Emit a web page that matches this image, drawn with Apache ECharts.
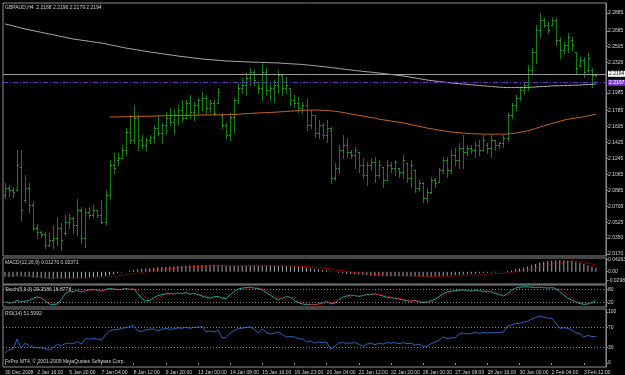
<!DOCTYPE html>
<html><head><meta charset="utf-8">
<script src="https://cdn.jsdelivr.net/npm/echarts@6/dist/echarts.min.js"></script>
<style>html,body{margin:0;padding:0;background:#000}#c{width:625px;height:375px}</style>
</head><body><div id="c"></div>
<script>
const timeLabels = ["30 Dec 2008","2 Jan 16:00","5 Jan 20:00","7 Jan 04:00","8 Jan 12:00","9 Jan 20:00","13 Jan 00:00","14 Jan 08:00","15 Jan 16:00","19 Jan 23:00","20 Jan 04:00","21 Jan 12:00","22 Jan 20:00","26 Jan 00:00","27 Jan 08:00","28 Jan 16:00","30 Jan 00:00","2 Feb 04:00","3 Feb 12:00"];

const openP = [2.0834,2.0913,2.0891,2.0891,2.1150,2.0778,2.0913,2.0722,2.0462,2.0417,
2.0395,2.0271,2.0327,2.0350,2.0462,2.0406,2.0530,2.0575,2.0496,2.0665,
2.0350,2.0643,2.0609,2.0665,2.0609,2.0530,2.0834,2.1172,2.1229,2.1251,
2.1342,2.1544,2.1454,2.1702,2.1454,2.1398,2.1454,2.1488,2.1589,2.1533,
2.1623,2.1702,2.1657,2.1736,2.1792,2.1702,2.1871,2.1770,2.1849,2.1905,
2.1928,2.1815,2.1871,2.1871,2.1736,2.1623,2.1511,2.1713,2.1905,2.2040,
2.2074,2.2153,2.2221,2.2108,2.2040,2.2221,2.2018,2.2040,2.2074,2.2187,
2.2040,2.2040,2.1905,2.1871,2.1815,2.1849,2.1623,2.1736,2.1533,2.1623,
2.1511,2.1589,2.1026,2.1139,2.1342,2.1398,2.1319,2.1285,2.1319,2.1172,
2.1060,2.1172,2.1206,2.1060,2.1150,2.1003,2.1172,2.1139,2.1139,2.1094,
2.1195,2.1026,2.1116,2.0913,2.0970,2.0801,2.0868,2.1003,2.0981,2.1116,
2.1229,2.1116,2.1285,2.1229,2.1364,2.1319,2.1364,2.1342,2.1398,2.1342,
2.1398,2.1364,2.1454,2.1398,2.1420,2.1477,2.1736,2.1849,2.1928,2.2018,
2.2074,2.2243,2.2446,2.2694,2.2807,2.2750,2.2750,2.2807,2.2581,2.2469,
2.2525,2.2581,2.2446,2.2300,2.2356,2.2243,2.2243,2.2188];

const highP = [2.0970,2.0947,2.0925,2.1342,2.1342,2.1060,2.0970,2.0755,2.0508,2.0429,
2.0417,2.0406,2.0496,2.0586,2.0519,2.0609,2.0620,2.0586,2.0789,2.0699,
2.0688,2.0699,2.0722,2.0665,2.0778,2.0891,2.1229,2.1308,2.1308,2.1398,
2.1589,2.1736,2.1849,2.1736,2.1511,2.1477,2.1511,2.1623,2.1736,2.1646,
2.1770,2.1815,2.1792,2.1849,2.1905,2.1905,2.1961,2.1882,2.1928,2.1995,
2.1961,2.1905,2.1905,2.2040,2.1759,2.1646,2.1759,2.1928,2.2097,2.2153,
2.2209,2.2266,2.2243,2.2108,2.2322,2.2266,2.2097,2.2130,2.2243,2.2187,
2.2164,2.2040,2.1961,2.1939,2.1882,2.1928,2.1792,2.1736,2.1680,2.1646,
2.1680,2.1601,2.1195,2.1398,2.1511,2.1477,2.1342,2.1375,2.1319,2.1251,
2.1206,2.1251,2.1263,2.1229,2.1150,2.1229,2.1206,2.1229,2.1139,2.1285,
2.1195,2.1229,2.1116,2.1003,2.0981,2.0913,2.1037,2.1026,2.1139,2.1263,
2.1263,2.1342,2.1364,2.1420,2.1511,2.1398,2.1398,2.1432,2.1454,2.1511,
2.1420,2.1511,2.1454,2.1432,2.1511,2.1759,2.1871,2.1961,2.2040,2.2097,
2.2300,2.2491,2.2750,2.2885,2.2829,2.2784,2.2840,2.2829,2.2615,2.2559,
2.2660,2.2615,2.2446,2.2390,2.2390,2.2435,2.2266,2.2196];

const lowP = [2.0801,2.0823,2.0812,2.0891,2.0553,2.0755,2.0643,2.0440,2.0350,2.0361,
2.0237,2.0260,2.0237,2.0271,2.0215,2.0384,2.0462,2.0406,2.0384,2.0293,
2.0248,2.0575,2.0586,2.0586,2.0519,2.0496,2.0801,2.1082,2.1172,2.1251,
2.1285,2.1420,2.1420,2.1342,2.1364,2.1342,2.1420,2.1432,2.1511,2.1420,
2.1533,2.1623,2.1533,2.1623,2.1657,2.1702,2.1702,2.1680,2.1736,2.1792,
2.1759,2.1770,2.1736,2.1871,2.1589,2.1477,2.1454,2.1544,2.1871,2.1984,
2.1961,2.2074,2.2074,2.1984,2.1905,2.1961,2.1905,2.1882,2.1995,2.1961,
2.1984,2.1849,2.1826,2.1770,2.1759,2.1567,2.1589,2.1488,2.1477,2.1477,
2.1432,2.0970,2.1003,2.1082,2.1251,2.1263,2.1251,2.1139,2.1094,2.1026,
2.0947,2.1116,2.0981,2.1037,2.0925,2.1003,2.1094,2.1060,2.1037,2.1026,
2.0981,2.0925,2.0868,2.0891,2.0755,2.0755,2.0857,2.0925,2.0981,2.1082,
2.1037,2.1082,2.1172,2.1139,2.1139,2.1285,2.1308,2.1263,2.1285,2.1342,
2.1308,2.1263,2.1342,2.1364,2.1375,2.1454,2.1702,2.1792,2.1905,2.1984,
2.2018,2.2209,2.2322,2.2615,2.2728,2.2660,2.2750,2.2525,2.2378,2.2435,
2.2446,2.2469,2.2209,2.2277,2.2164,2.2221,2.2052,2.2179];

const closeP = [2.0913,2.0891,2.0868,2.1172,2.0665,2.0913,2.0722,2.0462,2.0417,2.0395,
2.0271,2.0327,2.0350,2.0462,2.0327,2.0530,2.0575,2.0496,2.0665,2.0350,
2.0643,2.0609,2.0665,2.0609,2.0530,2.0834,2.1172,2.1139,2.1251,2.1342,
2.1544,2.1454,2.1702,2.1454,2.1398,2.1454,2.1488,2.1589,2.1533,2.1623,
2.1702,2.1657,2.1736,2.1792,2.1702,2.1871,2.1770,2.1849,2.1905,2.1928,
2.1815,2.1871,2.1759,2.1995,2.1623,2.1511,2.1713,2.1905,2.2040,2.2074,
2.2153,2.2221,2.2130,2.2040,2.2221,2.2018,2.2040,2.2074,2.2187,2.2040,
2.2074,2.1905,2.1871,2.1815,2.1849,2.1623,2.1736,2.1533,2.1623,2.1511,
2.1589,2.1026,2.1139,2.1342,2.1398,2.1319,2.1285,2.1342,2.1172,2.1060,
2.1172,2.1206,2.1060,2.1172,2.1003,2.1172,2.1139,2.1206,2.1094,2.1229,
2.1026,2.1172,2.0913,2.0970,2.0801,2.0868,2.1003,2.0970,2.1116,2.1229,
2.1116,2.1285,2.1229,2.1364,2.1319,2.1364,2.1342,2.1398,2.1342,2.1454,
2.1364,2.1454,2.1398,2.1420,2.1477,2.1736,2.1849,2.1928,2.2018,2.2074,
2.2243,2.2446,2.2694,2.2807,2.2750,2.2694,2.2807,2.2581,2.2469,2.2525,
2.2615,2.2525,2.2266,2.2356,2.2221,2.2378,2.2187,2.2194];

const maSlow = [2.2762,2.2751,2.2740,2.2728,2.2717,2.2705,2.2696,2.2686,2.2677,2.2668,
2.2658,2.2649,2.2639,2.2630,2.2621,2.2611,2.2602,2.2592,2.2586,2.2579,
2.2573,2.2566,2.2560,2.2553,2.2547,2.2538,2.2528,2.2519,2.2510,2.2500,
2.2491,2.2484,2.2476,2.2469,2.2461,2.2454,2.2446,2.2440,2.2433,2.2427,
2.2420,2.2414,2.2407,2.2401,2.2395,2.2390,2.2384,2.2378,2.2373,2.2367,
2.2363,2.2360,2.2356,2.2352,2.2349,2.2345,2.2343,2.2341,2.2339,2.2337,
2.2335,2.2333,2.2331,2.2330,2.2328,2.2327,2.2325,2.2324,2.2322,2.2319,
2.2316,2.2313,2.2311,2.2308,2.2305,2.2300,2.2296,2.2291,2.2286,2.2282,
2.2277,2.2271,2.2266,2.2260,2.2254,2.2249,2.2243,2.2238,2.2233,2.2228,
2.2223,2.2219,2.2214,2.2209,2.2204,2.2198,2.2193,2.2187,2.2182,2.2176,
2.2168,2.2161,2.2153,2.2145,2.2138,2.2130,2.2124,2.2119,2.2113,2.2108,
2.2102,2.2097,2.2093,2.2089,2.2084,2.2080,2.2076,2.2072,2.2068,2.2064,
2.2061,2.2057,2.2053,2.2050,2.2046,2.2045,2.2045,2.2045,2.2046,2.2046,
2.2046,2.2049,2.2052,2.2055,2.2057,2.2060,2.2063,2.2065,2.2066,2.2068,
2.2069,2.2071,2.2072,2.2074,2.2077,2.2080,2.2082,2.2085];

const maMid = [null,null,null,null,null,null,null,null,null,null,
null,null,null,null,null,null,null,null,null,null,
null,null,null,null,null,null,2.1713,2.1714,2.1715,2.1716,
2.1717,2.1718,2.1719,2.1720,2.1721,2.1722,2.1723,2.1724,2.1725,2.1726,
2.1727,2.1728,2.1729,2.1730,2.1731,2.1732,2.1733,2.1734,2.1735,2.1736,
2.1736,2.1737,2.1737,2.1738,2.1738,2.1739,2.1740,2.1742,2.1745,2.1748,
2.1751,2.1754,2.1757,2.1759,2.1761,2.1763,2.1765,2.1767,2.1770,2.1773,
2.1776,2.1779,2.1782,2.1785,2.1788,2.1790,2.1792,2.1792,2.1791,2.1789,
2.1786,2.1783,2.1779,2.1772,2.1765,2.1757,2.1748,2.1740,2.1732,2.1724,
2.1716,2.1708,2.1700,2.1689,2.1682,2.1675,2.1668,2.1661,2.1654,2.1646,
2.1638,2.1628,2.1618,2.1608,2.1599,2.1589,2.1581,2.1573,2.1565,2.1558,
2.1551,2.1544,2.1540,2.1536,2.1532,2.1528,2.1525,2.1523,2.1522,2.1521,
2.1520,2.1520,2.1520,2.1520,2.1521,2.1522,2.1526,2.1532,2.1540,2.1549,
2.1558,2.1570,2.1584,2.1598,2.1612,2.1626,2.1639,2.1652,2.1665,2.1678,
2.1688,2.1695,2.1702,2.1709,2.1716,2.1726,2.1735,2.1744];

const macdMain = [-0.018,-0.019,-0.019,-0.016,-0.017,-0.018,-0.019,-0.021,-0.022,-0.023,
-0.024,-0.025,-0.025,-0.024,-0.024,-0.024,-0.023,-0.023,-0.022,-0.022,
-0.021,-0.020,-0.019,-0.018,-0.017,-0.015,-0.012,-0.009,-0.006,-0.003,
0.000,0.003,0.006,0.008,0.010,0.011,0.012,0.014,0.015,0.016,
0.017,0.018,0.019,0.020,0.021,0.021,0.022,0.022,0.022,0.023,
0.023,0.023,0.023,0.023,0.022,0.021,0.020,0.020,0.021,0.021,
0.022,0.022,0.022,0.022,0.022,0.022,0.022,0.021,0.021,0.021,
0.020,0.019,0.018,0.017,0.016,0.014,0.012,0.010,0.008,0.006,
0.004,0.001,-0.002,-0.004,-0.006,-0.008,-0.009,-0.010,-0.011,-0.012,
-0.013,-0.014,-0.015,-0.015,-0.016,-0.016,-0.016,-0.016,-0.016,-0.016,
-0.016,-0.016,-0.017,-0.017,-0.018,-0.018,-0.018,-0.017,-0.016,-0.015,
-0.014,-0.013,-0.012,-0.011,-0.010,-0.009,-0.008,-0.007,-0.006,-0.005,
-0.004,-0.003,-0.002,-0.001,0.000,0.002,0.005,0.008,0.011,0.014,
0.018,0.022,0.027,0.032,0.035,0.037,0.039,0.040,0.040,0.040,
0.039,0.037,0.034,0.031,0.027,0.023,0.018,0.0127];

const macdSignal = [-0.012,-0.013,-0.014,-0.015,-0.015,-0.016,-0.016,-0.017,-0.018,-0.019,
-0.020,-0.021,-0.022,-0.022,-0.023,-0.023,-0.023,-0.023,-0.023,-0.023,
-0.023,-0.022,-0.022,-0.021,-0.020,-0.019,-0.018,-0.017,-0.015,-0.013,
-0.011,-0.009,-0.007,-0.005,-0.003,-0.001,0.001,0.003,0.005,0.007,
0.009,0.010,0.012,0.013,0.014,0.015,0.016,0.017,0.018,0.019,
0.020,0.020,0.021,0.021,0.021,0.021,0.021,0.021,0.021,0.021,
0.021,0.021,0.021,0.021,0.021,0.021,0.021,0.021,0.021,0.021,
0.021,0.020,0.020,0.019,0.018,0.018,0.017,0.015,0.014,0.013,
0.011,0.009,0.007,0.005,0.003,0.001,-0.001,-0.003,-0.004,-0.006,
-0.007,-0.008,-0.009,-0.010,-0.011,-0.012,-0.013,-0.013,-0.014,-0.014,
-0.015,-0.015,-0.015,-0.016,-0.016,-0.016,-0.017,-0.017,-0.017,-0.016,
-0.016,-0.016,-0.015,-0.015,-0.014,-0.013,-0.012,-0.012,-0.011,-0.010,
-0.009,-0.008,-0.007,-0.006,-0.005,-0.004,-0.003,-0.001,0.001,0.003,
0.006,0.009,0.012,0.016,0.019,0.023,0.026,0.029,0.032,0.034,
0.036,0.037,0.037,0.036,0.033,0.030,0.027,0.0237];

const stochMain = [22,18,20,30,24,26,30,40,46,42,
28,14,10,14,35,60,72,70,76,68,
74,78,80,76,72,80,84,82,78,80,
84,80,82,62,40,28,30,42,52,56,
60,62,58,64,60,66,58,62,56,50,
44,40,46,48,40,38,55,70,82,86,
88,90,86,84,78,66,54,42,34,40,
48,44,30,20,14,10,12,10,14,18,
26,14,18,34,44,50,54,52,48,52,
58,56,60,55,50,44,42,40,36,32,
28,26,30,24,20,22,28,36,48,60,
68,72,74,76,78,74,72,76,74,70,
72,68,62,56,50,60,76,86,90,92,
92,90,88,90,88,86,88,84,70,54,
40,32,22,16,12,14,20,29.26];

const stochSignal = [24,22,20,23,25,27,27,32,39,43,
39,28,17,13,20,36,56,67,73,71,
73,74,77,78,76,76,79,82,81,80,
81,81,82,75,61,43,33,33,41,50,
56,59,60,61,61,63,61,62,59,56,
50,45,43,45,45,42,44,54,69,79,
85,88,88,87,83,76,66,54,43,39,
41,44,41,31,21,15,12,11,12,14,
19,19,19,22,32,43,49,52,51,51,
53,55,58,57,55,50,45,42,39,36,
32,29,28,27,25,22,23,29,37,48,
59,67,71,74,76,76,75,74,74,73,
72,70,67,62,56,55,62,74,84,89,
91,91,90,89,89,88,87,86,81,69,
55,42,31,23,17,14,15,16.88];

const rsiVals = [20,26,27,47,29,39,34,31,30,30,
28,26,30,37,34,38,39,38,42,37,
48,47,48,47,45,55,63,65,66,67,
70,71,74,63,62,65,66,67,63,66,
68,66,67,69,68,70,68,70,70,72,
61,63,61,64,49,50,59,63,68,68,
70,71,66,59,67,60,57,58,61,56,
51,52,51,48,47,41,43,39,41,40,
41,27,33,39,40,39,39,40,37,33,
37,39,36,39,37,40,39,40,38,40,
38,39,35,37,33,33,38,41,45,51,
48,49,50,57,59,57,58,60,58,60,
59,60,59,60,61,72,75,77,78,80,
82,86,89,92,90,88,88,78,68,69,
68,65,59,58,51,54,52,51.6];

const priceTicks = [2.0170,2.0350,2.0525,2.0705,2.0885,2.1065,2.1245,2.1425,2.1605,2.1785,2.1985,2.2326,2.2505,2.2685,2.2885];
const macdTicks = [0.04263, 0, -0.02982];
const stochTicks = [80, 20];
const rsiTicks = [100, 70, 30, 0];
const stochLevels = [80, 20];
const rsiLevels = [70, 30];
const bidPrice = 2.2194;
const markPrice = 2.2107;

const headerText = "GBPAUD,H4  2.2188 2.2196 2.2179 2.2194";
const macdText = "MACD(12,26,9) 0.01270 0.02371";
const stochText = "Stoch(5,3,3) 29.2586 16.8778";
const rsiText = "RSI(14) 51.5992";
const copyText = "FxPro MT4, \u00a9 2001-2009 MetaQuotes Software Corp.";

const FONT = 'Liberation Sans';
const TXT = '#d4d4d4';
const AX = '#8c8c8c';
const N = 150;
const cats = Array.from({length: N}, (_, i) => String(i));
const isLab = idx => idx % 8 === 0 && (idx / 8) < timeLabels.length;

const L = 3, R = 19;
const grids = [
  {left: L, right: R, top: 3, height: 253},
  {left: L, right: R, top: 258, height: 26},
  {left: L, right: R, top: 285, height: 22},
  {left: L, right: R, top: 309, height: 58}
].map(g => Object.assign(g, {show: true, borderColor: AX, borderWidth: 1, backgroundColor: 'transparent', containLabel: false, outerBoundsMode: 'none'}));

function xAx(gi, withLabels) {
  return {
    type: 'category', gridIndex: gi, data: cats, boundaryGap: true, show: withLabels,
    axisLine: {show: false},
    axisTick: {show: withLabels, alignWithLabel: true, interval: (i) => isLab(i), length: 2, lineStyle: {color: AX}},
    axisLabel: {show: withLabels, interval: (i) => isLab(i), formatter: (v, i) => isLab(i) ? timeLabels[i / 8] : '',
      align: 'left', color: TXT, fontSize: 5, fontFamily: FONT, margin: 3},
    splitLine: {show: false}
  };
}
function yAx(gi, min, max, ticks, fmt) {
  return {
    type: 'value', gridIndex: gi, position: 'right', min: min, max: max,
    axisLine: {show: true, lineStyle: {color: AX}},
    axisTick: {show: true, inside: false, length: 2, customValues: ticks, lineStyle: {color: AX}},
    axisLabel: {show: true, customValues: ticks, formatter: fmt, color: TXT, fontSize: 5, fontFamily: FONT, margin: 2},
    splitLine: {show: false}
  };
}

const ohlcData = openP.map((o, i) => [i, o, highP[i], lowP[i], closeP[i]]);

function renderOHLC(params, api) {
  const i = api.value(0);
  const pO = api.coord([i, api.value(1)]);
  const pH = api.coord([i, api.value(2)]);
  const pL = api.coord([i, api.value(3)]);
  const pC = api.coord([i, api.value(4)]);
  const x = Math.round(pH[0]) + 0.5;
  const yo = Math.round(pO[1]) + 0.5, yc = Math.round(pC[1]) + 0.5;
  const st = {stroke: '#137f13', lineWidth: 1};
  const st2 = {stroke: '#2aa52a', lineWidth: 1};
  return {type: 'group', children: [
    {type: 'line', shape: {x1: x, y1: Math.round(pH[1]), x2: x, y2: Math.round(pL[1]) + 1}, style: st},
    {type: 'line', shape: {x1: x - 1.5, y1: yo, x2: x, y2: yo}, style: st2},
    {type: 'line', shape: {x1: x, y1: yc, x2: x + 1.5, y2: yc}, style: st2}
  ]};
}

function lineS(name, xi, data, color, width, type, extra) {
  return Object.assign({
    name: name, type: 'line', xAxisIndex: xi, yAxisIndex: xi, data: data,
    showSymbol: false, symbol: 'none', silent: true, connectNulls: false,
    lineStyle: {color: color, width: width, type: type || 'solid'},
    emphasis: {disabled: true}
  }, extra || {});
}
function levelLines(vals) {
  return {silent: true, symbol: 'none', label: {show: false},
    lineStyle: {color: '#8a8a8a', type: [1, 2], width: 1},
    data: vals.map(v => ({yAxis: v}))};
}
function txt(t, x, y) {
  return {type: 'text', left: x, top: y, silent: true,
    style: {text: t, fill: TXT, fontSize: 5, fontFamily: FONT}};
}

const chart = echarts.init(document.getElementById('c'), null, {renderer: 'canvas', width: 625, height: 375});
chart.setOption({
  backgroundColor: '#000000',
  animation: false,
  grid: grids,
  xAxis: [xAx(0, false), xAx(1, false), xAx(2, false), xAx(3, true)],
  yAxis: [
    yAx(0, 2.0147, 2.2998, priceTicks, v => v.toFixed(4)),
    yAx(1, -0.0433, 0.0477, macdTicks, v => (v === 0 ? '0.00' : String(v))),
    yAx(2, 0, 100, stochTicks, v => String(v)),
    yAx(3, -7.8, 105.9, rsiTicks, v => String(v))
  ],
  series: [
    lineS('MA slow', 0, maSlow, '#a9a9a9', 1, 'solid', {
      markLine: {silent: true, symbol: 'none', data: [
        {yAxis: bidPrice, lineStyle: {color: '#9a9a9a', type: 'solid', width: 1},
          label: {show: true, position: 'end', formatter: bidPrice.toFixed(4), color: '#000', backgroundColor: '#ffffff',
            fontSize: 5, fontFamily: FONT, padding: [1, 1, 0, 1], distance: 2}},
        {yAxis: markPrice, lineStyle: {color: '#6a30c0', type: [5, 2, 1, 2], width: 1},
          label: {show: true, position: 'end', formatter: markPrice.toFixed(4), color: '#fff', backgroundColor: '#7b3fd6',
            fontSize: 5, fontFamily: FONT, padding: [1, 1, 0, 1], distance: 2}}
      ]}
    }),
    lineS('MA mid', 0, maMid, '#c8651e', 1),
    {name: 'GBPAUD', type: 'custom', xAxisIndex: 0, yAxisIndex: 0, data: ohlcData, renderItem: renderOHLC,
      encode: {x: 0, y: [1, 2, 3, 4]}, silent: true, z: 3},
    {name: 'MACD', type: 'bar', xAxisIndex: 1, yAxisIndex: 1, data: macdMain, barWidth: 1,
      itemStyle: {color: '#a8a8a8'}, silent: true, emphasis: {disabled: true}},
    lineS('MACD signal', 1, macdSignal, '#c81010', 1, 'dotted', {z: 4}),
    lineS('Stoch main', 2, stochMain, '#1fa8a0', 1, 'solid', {markLine: levelLines(stochLevels)}),
    lineS('Stoch signal', 2, stochSignal, '#c81010', 1, 'dotted'),
    lineS('RSI', 3, rsiVals, '#2468c0', 1, 'solid', {markLine: levelLines(rsiLevels)})
  ],
  graphic: [
    txt(headerText, 5, 5),
    txt(macdText, 5, 260),
    txt(stochText, 5, 287),
    txt(rsiText, 5, 311),
    txt(copyText, 5, 359)
  ]
});
</script>
</body></html>
